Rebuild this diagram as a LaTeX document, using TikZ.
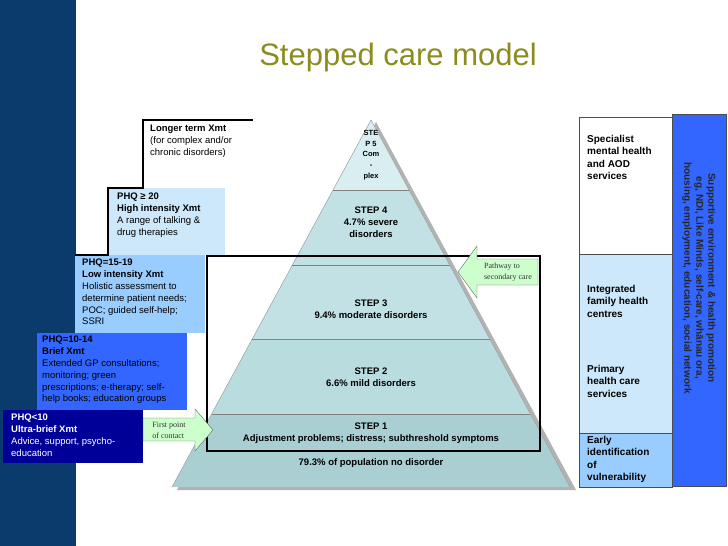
\documentclass[tikz,border=0pt]{standalone}
\usepackage{fontspec}
\setmainfont{Liberation Sans}
\newfontfamily\serifx{Liberation Serif}
\definecolor{band}{HTML}{0B3A6C}
\definecolor{titlec}{HTML}{8C8C1E}
\definecolor{lb1}{HTML}{CCE8FA}
\definecolor{lb2}{HTML}{99CCFF}
\definecolor{mb}{HTML}{3366FF}
\definecolor{db}{HTML}{000099}
\definecolor{p1}{HTML}{D8EEF0}
\definecolor{p2}{HTML}{C2E1E4}
\definecolor{p3}{HTML}{B9DCDF}
\definecolor{p4}{HTML}{A9CFD3}
\definecolor{gr}{HTML}{CCFFCC}
\begin{document}
\begin{tikzpicture}[x=1pt,y=-1pt,
 txt/.style={font=\fontsize{9.5}{11.8}\selectfont,align=left,anchor=north west,inner sep=0},
 ptxt/.style={font=\fontsize{9.5}{12}\selectfont\bfseries,align=center,inner sep=0},
 rtxt/.style={font=\fontsize{10}{12.5}\selectfont\bfseries,align=left,anchor=north west,inner sep=0},
 blk/.style={draw=black!60,fill=gr},
 atxt/.style={font=\serifx\fontsize{8}{11}\selectfont,align=left,inner sep=0,text=black!80}]
\useasboundingbox (0,0) rectangle (728,546);
\fill[band] (0,0) rectangle (76,546);
\node[font=\fontsize{31}{36}\selectfont,text=titlec] (title) at (398,57) {Stepped care model};
% steps
\fill[lb1] (108,188) rectangle (225,255);
\fill[lb2] (75,255) rectangle (205,333);
\fill[mb] (37,333) rectangle (187,410);
\fill[db] (3,410) rectangle (143,463);
\draw[line width=2.5pt] (253,120) -- (143,120) -- (143,188) -- (108,188) -- (108,255) -- (75,255);
\node[txt] (lt) at (150,125) {\textbf{Longer term Xmt}\\(for complex and/or\\chronic disorders)};
\node[txt] (s20) at (117,193) {\textbf{PHQ ≥ 20}\\\textbf{High intensity Xmt}\\A range of talking \&\\drug therapies};
\node[txt] (s15) at (82,259) {\textbf{PHQ=15-19}\\\textbf{Low intensity Xmt}\\Holistic assessment to\\determine patient needs;\\POC; guided self-help;\\SSRI};
\node[txt] (s10) at (42,336) {\textbf{PHQ=10-14}\\\textbf{Brief Xmt}\\Extended GP consultations;\\monitoring; green\\prescriptions; e-therapy; self-\\help books; education groups};
\node[txt,text=white] (s0) at (11,414) {\textbf{PHQ<10}\\\textbf{Ultra-brief Xmt}\\Advice, support, psycho-\\education};
% pyramid
\def\hw#1{0.54223*(#1-120)}
\fill[gray!60] (376,122) -- (576,490) -- (177,490) -- cycle;
\fill[p4] (371,120) -- (570,487) -- (172,487) -- cycle;
\fill[p3] (371,120) -- ({371+\hw{414}},414) -- ({371-\hw{414}},414) -- cycle;
\fill[p2] (371,120) -- ({371+\hw{339}},339) -- ({371-\hw{339}},339) -- cycle;
\fill[p1] (371,120) -- ({371+\hw{190}},190) -- ({371-\hw{190}},190) -- cycle;
\foreach \yy in {190,265,339,414}
 \draw[gray] ({371-\hw{\yy}},\yy) -- ({371+\hw{\yy}},\yy);
\draw[gray!80] (172,487) -- (371,120) -- (570,487);
\node[ptxt,font=\fontsize{7.5}{10.8}\selectfont\bfseries] (st5) at (371,155) {STE\\P 5\\Com\\-\\plex};
\node[ptxt] (st4) at (371,222) {STEP 4\\4.7\% severe\\disorders};
\node[ptxt] (st3) at (371,309) {STEP 3\\9.4\% moderate disorders};
\node[ptxt] (st2) at (371,377) {STEP 2\\6.6\% mild disorders};
\node[ptxt] (st1) at (371,433) {STEP 1\\Adjustment problems; distress; subthreshold symptoms};
\node[ptxt] (st0) at (371,463) {79.3\% of population no disorder};
\draw[line width=2.5pt] (207,256) rectangle (540,451);
% arrows
\draw[blk] (458,272) -- (477,246) -- (477,259) -- (538,259) -- (538,285) -- (477,285) -- (477,298) -- cycle;
\node[atxt] (pwt) at (508,272) {Pathway to\\secondary care};
\draw[blk] (213,430) -- (195,409) -- (195,418) -- (143,418) -- (143,441) -- (195,441) -- (195,451) -- cycle;
\node[atxt] (fpt) at (169,430) {First point\\of contact};
% right column
\draw[black!70,fill=white] (579,117) rectangle (672,254);
\draw[black!70,fill=lb1] (579,254) rectangle (672,433);
\draw[black!70,fill=lb2] (579,433) rectangle (672,487);
\fill[mb] (672,114) rectangle (726,486);
\draw[black!70] (672,114) rectangle (726,486);
\node[rtxt] (r1) at (587,135) {Specialist\\mental health\\and AOD\\services};
\node[rtxt] (r2) at (587,285) {Integrated\\family health\\centres};
\node[rtxt] (r3) at (587,365) {Primary\\health care\\services};
\node[rtxt] (r4) at (587,436) {Early\\identification\\of\\vulnerability};
\node[font=\fontsize{10}{12}\selectfont\bfseries,align=center,rotate=-90,text=black!85] (r5) at (699,278) {Supportive environment \& health promotion\\eg, NDI, Like Minds, self-care, whānau ora,\\housing, employment, education, social network};
\end{tikzpicture}
\end{document}
